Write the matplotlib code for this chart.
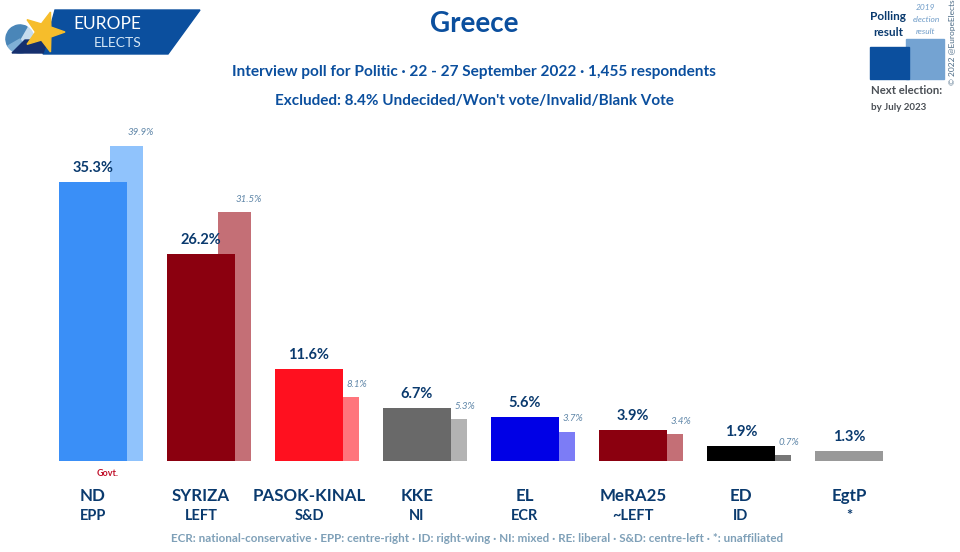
"""
Greece poll bar chart, polling result against the 2019 election result.
"""
import matplotlib
matplotlib.use('Agg')
import matplotlib.pyplot as plt
from matplotlib.patches import Circle, Polygon, Wedge
import numpy as np

parties = ['ND', 'SYRIZA', 'PASOK-KINAL', 'KKE', 'EL', 'MeRA25', 'ED', 'EgtP']
groups = ['EPP', 'LEFT', 'S&D', 'NI', 'ECR', '~LEFT', 'ID', '*']
poll = [35.3, 26.2, 11.6, 6.7, 5.6, 3.9, 1.9, 1.3]
election = [39.9, 31.5, 8.1, 5.3, 3.7, 3.4, 0.7, None]
poll_colors = ['#3a8ff7', '#8b000f', '#ff101f', '#696969', '#0000e6', '#8b000f', '#000000', '#999999']
election_colors = ['#90c3fc', '#c46f76', '#ff757c', '#b3b3b3', '#7c7cf6', '#c46f76', '#777777', '#999999']

NAVY = '#0a3a6e'
BLUE = '#0b4f9e'

plt.rcParams['font.family'] = ['Lato', 'DejaVu Sans']

fig = plt.figure(figsize=(9.6, 5.52), dpi=100)

# overlay in pixel coordinates for logo, key and headings
px = fig.add_axes([0, 0, 1, 1])
px.set_xlim(0, 960)
px.set_ylim(552, 0)
px.axis('off')

# the chart axes: first bar centred on x=93px, step 108px, 7.9px per point
ax = fig.add_axes([0, 0, 1, 1])
ax.set_xlim(-93 / 108, (960 - 93) / 108)
ax.set_ylim(-(552 - 461) / 7.9, 461 / 7.9)
ax.axis('off')
ax.patch.set_alpha(0)

for i, (val, prev) in enumerate(zip(poll, election)):
    if prev is not None:
        ax.bar(i + 33.5 / 108, prev, width=33 / 108, color=election_colors[i], zorder=1)
        ax.annotate(f'{prev}%', (i + 33.5 / 108, prev), xytext=(14, 13),
                    textcoords='offset pixels', ha='center', va='center',
                    fontsize=7, style='italic', color='#5f86a8')
    ax.bar(i, val, width=68 / 108, color=poll_colors[i], zorder=2)
    ax.annotate(f'{val}%', (i, val), xytext=(0, 14), textcoords='offset pixels',
                ha='center', va='center', fontsize=10.5, fontweight='bold', color=NAVY)
    px.text(93 + 108 * i, 496, parties[i], ha='center', va='center',
            fontsize=12.2, fontweight='bold', color=NAVY)
    px.text(93 + 108 * i, 516, groups[i], ha='center', va='center',
            fontsize=10.5, fontweight='bold', color=NAVY)

px.text(108, 474, 'Govt.', ha='center', va='center', fontsize=6.5, fontweight='bold', color='#c0102a')

# headings
px.text(474, 24, 'Greece', ha='center', va='center', fontsize=20, fontweight='bold', color=BLUE)
px.text(474, 72, 'Interview poll for Politic · 22 - 27 September 2022 · 1,455 respondents',
        ha='center', va='center', fontsize=11.1, fontweight='bold', color=BLUE)
px.text(474, 101, "Excluded: 8.4% Undecided/Won't vote/Invalid/Blank Vote",
        ha='center', va='center', fontsize=11, fontweight='bold', color=BLUE)
px.text(477, 538, 'ECR: national-conservative · EPP: centre-right · ID: right-wing · NI: mixed · '
        'RE: liberal · S&D: centre-left · *: unaffiliated',
        ha='center', va='center', fontsize=8.4, fontweight='bold', color='#7fa0b8')

# logo
px.add_patch(Polygon([(55, 10), (200, 10), (168, 54), (43, 54)], color='#0b4f9e', zorder=1))
px.add_patch(Circle((20, 39), 14, color='#c5dcee', zorder=2))
px.add_patch(Wedge((20, 39), 14, 150, 300, color='#4a86b8', zorder=2))
px.add_patch(Wedge((20, 39), 14, 60, 150, color='#7fb0d6', zorder=2))
px.add_patch(Polygon([(12, 53), (25, 40), (48, 40), (43, 53)], color='#16306e', zorder=3))
star_angles = np.deg2rad(np.arange(0, 360, 36))
star_radii = [21 if k % 2 == 0 else 8.5 for k in range(10)]
star_points = [(44 + r * np.cos(a), 32 - r * np.sin(a)) for a, r in zip(star_angles, star_radii)]
px.add_patch(Polygon(star_points, color='#f6bd2b', zorder=4))
px.text(107, 24, 'EUROPE', ha='center', va='center', fontsize=12.5, color='white')
px.text(118, 43, 'ELECTS', ha='center', va='center', fontsize=10, color='#d5e6f5')

# key
px.add_patch(Polygon([(906, 39), (944, 39), (944, 79), (906, 79)], color='#74a3d2'))
px.add_patch(Polygon([(870, 47), (909, 47), (909, 79), (870, 79)], color='#0b4f9e'))
px.text(888, 17, 'Polling', ha='center', va='center', fontsize=8.5, fontweight='bold', color=NAVY)
px.text(888, 33, 'result', ha='center', va='center', fontsize=8.5, fontweight='bold', color=NAVY)
for y, word in zip([8, 20, 32], ['2019', 'election', 'result']):
    px.text(926, y, word, ha='center', va='center', fontsize=6, style='italic', color='#6f9cc8')
px.text(871, 91, 'Next election:', ha='left', va='center', fontsize=8.2, fontweight='bold', color='#4a4f55')
px.text(871, 108, 'by July 2023', ha='left', va='center', fontsize=7, fontweight='bold', color='#4a4f55')
px.text(952, 42, '© 2022 @EuropeElects', ha='center', va='center', rotation=90,
        fontsize=6, color='#4a6a85')

fig.savefig('out.png', dpi=100, facecolor='white')
